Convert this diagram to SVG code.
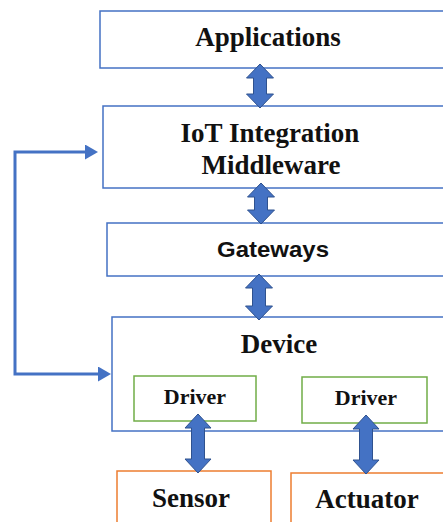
<svg xmlns="http://www.w3.org/2000/svg" width="443" height="522" viewBox="0 0 443 522">
<style>
.box{fill:#fff;stroke:#4472C4;stroke-width:1.5}
.drv{fill:#fff;stroke:#70AD47;stroke-width:1.5}
.hw{fill:#fff;stroke:#ED7D31;stroke-width:1.5}
.t{font-family:"Liberation Serif","Times New Roman",serif;font-weight:bold;font-size:27px;fill:#111;text-anchor:middle}
.ts{font-family:"Liberation Serif","Times New Roman",serif;font-weight:bold;font-size:22px;fill:#111;text-anchor:middle}
.tg{font-family:"Liberation Sans",Arial,sans-serif;font-weight:bold;font-size:22px;fill:#111;text-anchor:middle}
.blk{fill:#4472C4;stroke:#2F528F;stroke-width:1}
.ln{fill:none;stroke:#4472C4;stroke-width:3}
</style>
<defs>
<marker id="ah" markerUnits="userSpaceOnUse" markerWidth="14" markerHeight="16" refX="7" refY="7.5" orient="auto-start-reverse">
<path d="M0,0 L13,7.5 L0,15 z" fill="#4472C4"/>
</marker>
</defs>
<rect width="443" height="522" fill="#fff"/>
<g id="applications"><rect class="box" x="100" y="11" width="360" height="57"/><text class="t" x="268" y="46">Applications</text></g>
<g id="middleware"><rect class="box" x="103" y="106" width="360" height="82"/><text class="t" x="270" y="142">IoT Integration</text><text class="t" x="271" y="174">Middleware</text></g>
<g id="gateways"><rect class="box" x="107" y="223" width="360" height="53"/><text class="tg" x="273" y="257" textLength="112" lengthAdjust="spacingAndGlyphs">Gateways</text></g>
<g id="device"><rect class="box" x="112" y="317" width="360" height="114"/><text class="t" x="279" y="353">Device</text></g>
<g id="driver1"><rect class="drv" x="134" y="376" width="122" height="45"/><text class="ts" x="195" y="404">Driver</text></g>
<g id="driver2"><rect class="drv" x="302" y="377" width="125" height="46"/><text class="ts" x="366" y="405">Driver</text></g>
<g id="sensor"><rect class="hw" x="117" y="471" width="154" height="70"/><text class="t" x="191" y="507">Sensor</text></g>
<g id="actuator"><rect class="hw" x="291" y="473" width="170" height="70"/><text class="t" x="367" y="508">Actuator</text></g>
<g id="connectors">
<path class="blk" d="M260,64 L273.5,78 L266.5,78 L266.5,94 L273.5,94 L260,108 L246.5,94 L253.5,94 L253.5,78 L246.5,78 Z"/>
<path class="blk" d="M261,183 L274.5,197 L267.5,197 L267.5,210 L274.5,210 L261,224 L247.5,210 L254.5,210 L254.5,197 L247.5,197 Z"/>
<path class="blk" d="M259,274 L272.5,288 L265.5,288 L265.5,306 L272.5,306 L259,320 L245.5,306 L252.5,306 L252.5,288 L245.5,288 Z"/>
<path class="blk" d="M198,414 L211,428 L204.5,428 L204.5,459 L211,459 L198,473 L185,459 L191.5,459 L191.5,428 L185,428 Z"/>
<path class="blk" d="M366,415 L379,429 L372.5,429 L372.5,460 L379,460 L366,474 L353,460 L359.5,460 L359.5,429 L353,429 Z"/>
<path class="ln" d="M92,152 H15 V374 H105" marker-start="url(#ah)" marker-end="url(#ah)"/>
</g>
</svg>
